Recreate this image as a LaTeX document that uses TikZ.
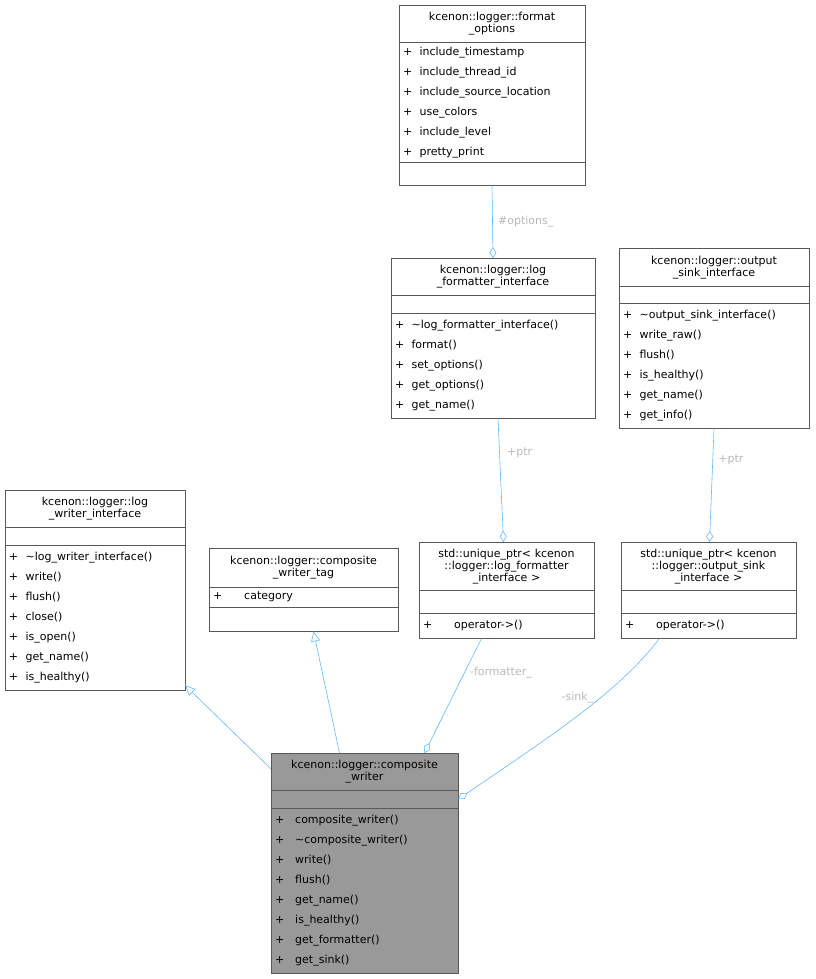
\documentclass[tikz,border=0pt]{standalone}
\usepackage{fontspec}
\setmainfont{DejaVu Sans}
\usetikzlibrary{positioning,arrows.meta,calc}
\definecolor{edgeblue}{RGB}{99,184,255}
\begin{document}
\begin{tikzpicture}[x=1pt,y=-1pt,
  box/.style={draw=black!65,fill=white,inner xsep=4pt,inner ysep=0pt,
    text width=#1-8pt,font=\fontsize{11}{12}\selectfont},
  ttl/.style={box=#1,align=center},
  mem/.style={box=#1,align=left,font=\fontsize{11}{20}\selectfont},
  link/.style={draw=edgeblue,semithick},
  lbl/.style={text=black!28,font=\fontsize{11}{12}\selectfont},
  agg/.style={link,{Diamond[open,length=11pt,width=7pt]}-},
  inh/.style={link,-{Triangle[open,length=10pt,width=9pt]}}]

\useasboundingbox (0,0) rectangle (815,979);

% format_options
\node[ttl=186pt,minimum height=37pt,anchor=north] (fo-t) at (492,5)
  {kcenon::logger::format\\\_options};
\node[mem=186pt,minimum height=120pt,below=-0.4pt of fo-t] (fo-a)
  {+\ \ include\_timestamp\\+\ \ include\_thread\_id\\+\ \ include\_source\_location\\+\ \ use\_colors\\+\ \ include\_level\\+\ \ pretty\_print};
\node[mem=186pt,minimum height=23pt,below=-0.4pt of fo-a] (fo-m) {};

% log_formatter_interface
\node[ttl=204pt,minimum height=37pt,anchor=north] (lf-t) at (493,258)
  {kcenon::logger::log\\\_formatter\_interface};
\node[mem=204pt,minimum height=18pt,below=-0.4pt of lf-t] (lf-a) {};
\node[mem=204pt,minimum height=105pt,below=-0.4pt of lf-a] (lf-m)
  {+\ \ \textasciitilde log\_formatter\_interface()\\+\ \ format()\\+\ \ set\_options()\\+\ \ get\_options()\\+\ \ get\_name()};

% output_sink_interface
\node[ttl=190pt,minimum height=38pt,anchor=north] (os-t) at (714,248)
  {kcenon::logger::output\\\_sink\_interface};
\node[mem=190pt,minimum height=17pt,below=-0.4pt of os-t] (os-a) {};
\node[mem=190pt,minimum height=125pt,below=-0.4pt of os-a] (os-m)
  {+\ \ \textasciitilde output\_sink\_interface()\\+\ \ write\_raw()\\+\ \ flush()\\+\ \ is\_healthy()\\+\ \ get\_name()\\+\ \ get\_info()};

% log_writer_interface
\node[ttl=180pt,minimum height=37pt,anchor=north] (lw-t) at (95,490)
  {kcenon::logger::log\\\_writer\_interface};
\node[mem=180pt,minimum height=18pt,below=-0.4pt of lw-t] (lw-a) {};
\node[mem=180pt,minimum height=145pt,below=-0.4pt of lw-a] (lw-m)
  {+\ \ \textasciitilde log\_writer\_interface()\\+\ \ write()\\+\ \ flush()\\+\ \ close()\\+\ \ is\_open()\\+\ \ get\_name()\\+\ \ is\_healthy()};

% composite_writer_tag
\node[ttl=189pt,minimum height=39pt,anchor=north] (tg-t) at (303.5,548)
  {kcenon::logger::composite\\\_writer\_tag};
\node[mem=189pt,minimum height=20pt,below=-0.4pt of tg-t] (tg-a) {+\qquad category};
\node[mem=189pt,minimum height=24pt,below=-0.4pt of tg-a] (tg-m) {};

% unique_ptr formatter
\node[ttl=175pt,minimum height=48pt,anchor=north] (uf-t) at (506.5,542)
  {std::unique\_ptr\textless{} kcenon\\::logger::log\_formatter\\\_interface \textgreater};
\node[mem=175pt,minimum height=23pt,below=-0.4pt of uf-t] (uf-a) {};
\node[mem=175pt,minimum height=25pt,below=-0.4pt of uf-a] (uf-m) {+\qquad operator-\textgreater()};

% unique_ptr sink
\node[ttl=175pt,minimum height=48pt,anchor=north] (us-t) at (708.5,542)
  {std::unique\_ptr\textless{} kcenon\\::logger::output\_sink\\\_interface \textgreater};
\node[mem=175pt,minimum height=23pt,below=-0.4pt of us-t] (us-a) {};
\node[mem=175pt,minimum height=25pt,below=-0.4pt of us-a] (us-m) {+\qquad operator-\textgreater()};

% composite_writer
\node[ttl=187pt,fill=black!40,minimum height=37pt,anchor=north] (cw-t) at (364.5,753)
  {kcenon::logger::composite\\\_writer};
\node[mem=187pt,fill=black!40,minimum height=18pt,below=-0.4pt of cw-t] (cw-a) {};
\node[mem=187pt,fill=black!40,minimum height=165pt,below=-0.4pt of cw-a] (cw-m)
  {+\ \ \ composite\_writer()\\+\ \ \ \textasciitilde composite\_writer()\\+\ \ \ write()\\+\ \ \ flush()\\+\ \ \ get\_name()\\+\ \ \ is\_healthy()\\+\ \ \ get\_formatter()\\+\ \ \ get\_sink()};

% connectors
\draw[agg] (lf-t.north) -- node[lbl,right=2pt] {\#options\_} (fo-m.south);
\draw[agg] ($(uf-t.north)+(-3,0)$) -- node[lbl,right=4pt,pos=0.72] {+ptr} ($(lf-m.south)+(5,0)$);
\draw[agg] ($(us-t.north)+(1,0)$) -- node[lbl,right=2pt,pos=0.72] {+ptr} (os-m.south);
\draw[inh] ($(cw-t.west)+(0,-3)$) -- ($(lw-m.south east)+(0,-5)$);
\draw[inh] ($(cw-t.north)+(-25,0)$) -- ($(tg-m.south)+(10,0)$);
\draw[agg] ($(cw-t.north)+(60,0)$) -- node[lbl,pos=0.7,right=2pt] {-formatter\_} ($(uf-m.south)+(-25,0)$);
\draw[agg] (cw-a.east) .. controls (560,730) and (620,690) .. node[lbl,pos=0.6,left=4pt] {-sink\_} ($(us-m.south)+(-49,0)$);
\end{tikzpicture}
\end{document}
